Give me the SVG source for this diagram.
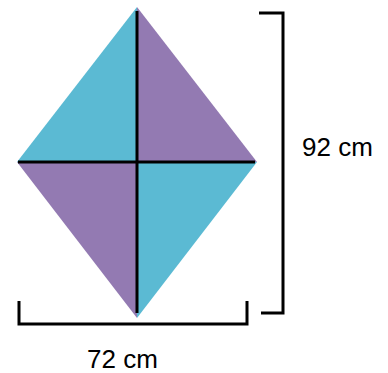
<svg xmlns="http://www.w3.org/2000/svg" width="388" height="373" viewBox="0 0 388 373">
<style>
.cyan{fill:#5bbad3}
.purple{fill:#937ab2}
.ln{stroke:#000;stroke-width:3;fill:none}
.lbl{font-family:"Liberation Sans",Arial,sans-serif;font-size:26px;fill:#000}
</style>
<rect width="388" height="373" fill="#fff"/>
<g id="kite">
<polygon class="cyan" points="137,7 17,162 137,162"/>
<polygon class="purple" points="137,7 257,162 137,162"/>
<polygon class="purple" points="17,162 137,162 137,318"/>
<polygon class="cyan" points="257,162 137,162 137,318"/>
</g>
<g id="connectors">
<line class="ln" x1="137" y1="11" x2="137" y2="313"/>
<line class="ln" x1="18" y1="162" x2="255" y2="162"/>
<polyline class="ln" points="259,13 283,13 283,313 261,313"/>
<polyline class="ln" points="19,301 19,324 247,324 247,301"/>
</g>
<g id="label-height"><text class="lbl" x="302" y="156">92 cm</text></g>
<g id="label-width"><text class="lbl" x="87" y="368">72 cm</text></g>
</svg>
